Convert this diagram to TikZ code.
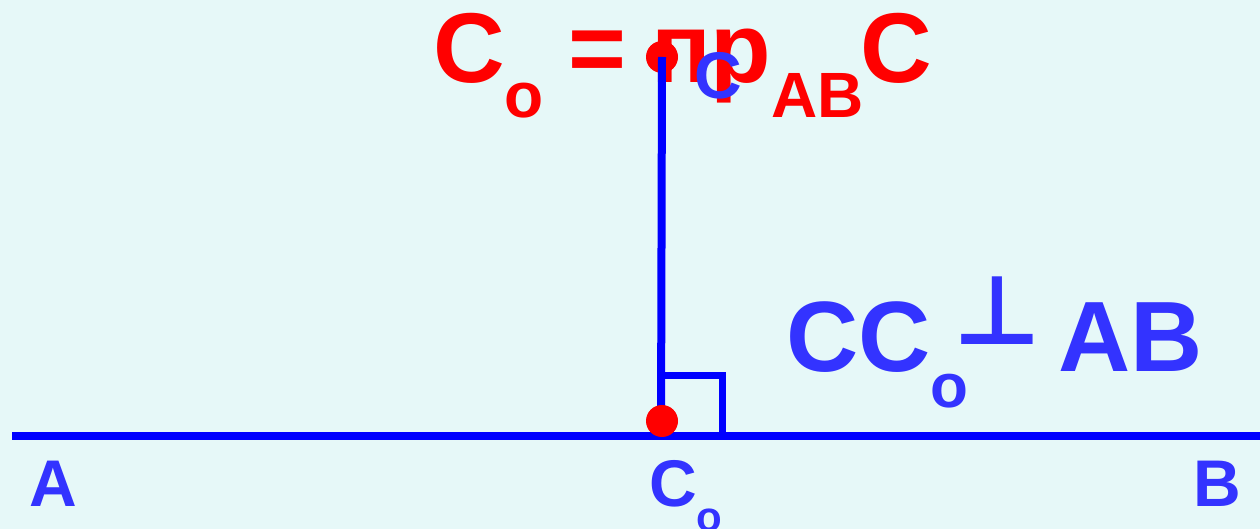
\documentclass[tikz,border=0pt]{standalone}
\usepackage{fontspec}
\setmainfont{Liberation Sans}
\newfontfamily\symfont{DejaVu Sans}
\usetikzlibrary{positioning}
\definecolor{bgcyan}{RGB}{230,248,248}
\definecolor{lineblue}{RGB}{0,0,255}
\definecolor{textblue}{RGB}{51,51,255}
% lowered subscript: drop, size, text
\newcommand{\lowsub}[3]{\raisebox{-#1}{\fontsize{#2}{#2}\selectfont #3}}

\begin{document}
\begin{tikzpicture}[x=0.5pt, y=-0.5pt, inner sep=0pt, outer sep=0pt,
    blueline/.style={draw=lineblue, line width=4pt},
    dot/.style={circle, fill=red, minimum size=16pt},
    lbl/.style={text=textblue, font=\bfseries\fontsize{33}{33}\selectfont, anchor=base west},
    redtxt/.style={text=red, font=\bfseries\fontsize{49.6}{50}\selectfont, anchor=base west},
    bluetxt/.style={text=textblue, font=\bfseries\fontsize{50}{50}\selectfont, anchor=base west}]
    \fill[bgcyan] (0,0) rectangle (1260,529);
    \useasboundingbox (0,0) rectangle (1260,529);

    % formula on top
    \node[redtxt] (eqCo) at (433,83) {C\lowsub{17.5pt}{32}{o}};
    \node[redtxt] (eqSign) at (568,83) {=};
    \node[redtxt] (eqPr) at (651,83) {пр\lowsub{17.5pt}{32}{AB}};
    \node[redtxt] (eqC) at (860,83) {C};

    % line AB and the perpendicular
    \coordinate (A0) at (12,436);
    \coordinate (B0) at (1260,436);
    \coordinate (P) at (661,436);
    \coordinate (Q) at (722,376);
    \node[dot] (C) at (662,57) {};
    \draw[blueline] (A0) -- (B0);
    \draw[blueline] (C.center) -- (P);
    \draw[draw=lineblue, line width=3.5pt] (P |- Q) -| (Q |- P);
    \node[dot] (Co) at (662,421) {};

    % labels
    \node[lbl] (labC) at (694,99) {C};
    \node[lbl] (labA) at (30,507) {A};
    \node[lbl] (labCo) at (649,507) {C\lowsub{12.5pt}{21}{o}};
    \node[lbl] (labB) at (1193,507) {B};

    % CC_o perp AB
    \node[bluetxt] (CCo) at (786,372) {CC\lowsub{17.5pt}{31}{o}};
    \node[text=textblue, anchor=base, font=\symfont\bfseries\fontsize{48}{48}\selectfont] (perp) at (997,345) {⊥};
    \node[bluetxt] (AB) at (1058,372) {AB};
\end{tikzpicture}
\end{document}
